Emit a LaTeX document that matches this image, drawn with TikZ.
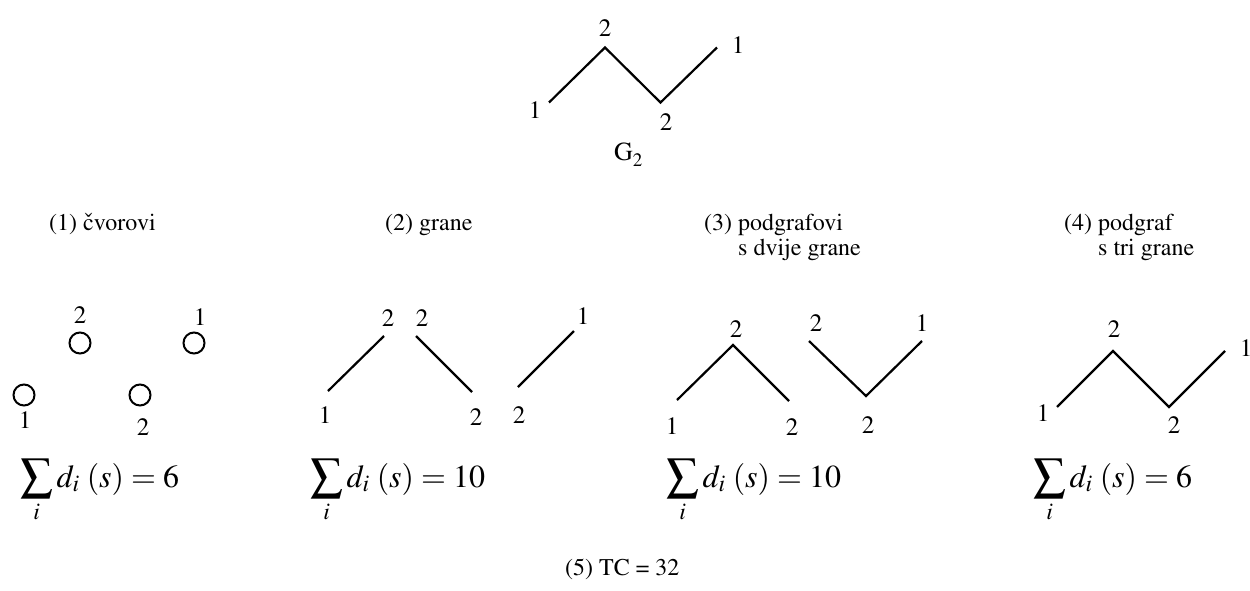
\documentclass[tikz,border=0pt]{standalone}
\usepackage[T1]{fontenc}
\usepackage{mathptmx}
\begin{document}
\begin{tikzpicture}[x=1pt,y=-1pt,
  edge/.style={line width=2.2pt},
  lbl/.style={font=\rmfamily\fontsize{25}{27}\selectfont, inner sep=0pt},
  hdr/.style={font=\rmfamily\fontsize{24}{26}\selectfont, inner sep=0pt, anchor=base west},
  frm/.style={font=\rmfamily\fontsize{32}{36}\selectfont, inner sep=0pt, anchor=base west},
  vert/.style={circle, draw, line width=2pt, minimum size=21pt, inner sep=0pt}]
\useasboundingbox (0,0) rectangle (1250,590);

% ---- G2 (top)
\coordinate (ga) at (549,102.5);
\coordinate (gb) at (605,47.5);
\coordinate (gc) at (660.5,102.5);
\coordinate (gd) at (717,47.5);
\draw[edge] (ga) -- (gb) -- (gc) -- (gd);
\node[lbl] (lga) at (535,110) {1};
\node[lbl] (lgb) at (605,28) {2};
\node[lbl] (lgc) at (666,122) {2};
\node[lbl] (lgd) at (738,45) {1};
\node[hdr, font=\rmfamily\fontsize{26}{28}\selectfont] (gname) at (614,160) {G\raisebox{-6pt}{\fontsize{19}{20}\selectfont 2}};

% ---- headers
\node[hdr] (h1) at (49,230) {(1) \char"A3 vorovi};
\node[hdr] (h2) at (385,230) {(2) grane};
\node[hdr] (h3) at (704,230) {(3) podgrafovi};
\node[hdr] (h3b) at (738,255) {s dvije grane};
\node[hdr] (h4) at (1064,230) {(4) podgraf};
\node[hdr] (h4b) at (1098,255) {s tri grane};

% ---- panel 1: vertices
\node[vert] (v1) at (80,343) {};
\node[vert] (v2) at (194,343) {};
\node[vert] (v3) at (24,395) {};
\node[vert] (v4) at (140,395) {};
\node[lbl] (lv1) at (80,315) {2};
\node[lbl] (lv2) at (200,317) {1};
\node[lbl] (lv3) at (25,420) {1};
\node[lbl] (lv4) at (143,427) {2};
\node[frm] (f1) at (20,487) {$\displaystyle\sum_i d_i\;(s)=6$};

% ---- panel 2: edges
\coordinate (e1a) at (328,391);
\coordinate (e1b) at (384,336);
\coordinate (e2a) at (416,336);
\coordinate (e2b) at (472,392);
\coordinate (e3a) at (518,387);
\coordinate (e3b) at (574,331);
\draw[edge] (e1a) -- (e1b);
\draw[edge] (e2a) -- (e2b);
\draw[edge] (e3a) -- (e3b);
\node[lbl] (le1b) at (388,318) {2};
\node[lbl] (le2a) at (422,318) {2};
\node[lbl] (le3b) at (583,316) {1};
\node[lbl] (le1a) at (325,415) {1};
\node[lbl] (le2b) at (476,417) {2};
\node[lbl] (le3a) at (519,415) {2};
\node[frm] (f2) at (310,487) {$\displaystyle\sum_i d_i\;(s)=10$};

% ---- panel 3: two-edge subgraphs
\coordinate (pa) at (677,400);
\coordinate (pb) at (733,345);
\coordinate (pc) at (789,401);
\coordinate (qa) at (809,341);
\coordinate (qb) at (866,396);
\coordinate (qc) at (922,341);
\draw[edge] (pa) -- (pb) -- (pc);
\draw[edge] (qa) -- (qb) -- (qc);
\node[lbl] (lpb) at (736,329) {2};
\node[lbl] (lpa) at (672,426) {1};
\node[lbl] (lpc) at (792,427) {2};
\node[lbl] (lqa) at (816,323) {2};
\node[lbl] (lqc) at (922,323) {1};
\node[lbl] (lqb) at (868,425) {2};
\node[frm] (f3) at (666,487) {$\displaystyle\sum_i d_i\;(s)=10$};

% ---- panel 4: three-edge subgraph
\coordinate (ra) at (1057,407);
\coordinate (rb) at (1113,351);
\coordinate (rc) at (1169,407);
\coordinate (rd) at (1225,351);
\draw[edge] (ra) -- (rb) -- (rc) -- (rd);
\node[lbl] (lrb) at (1114,329) {2};
\node[lbl] (lra) at (1043,413) {1};
\node[lbl] (lrc) at (1174,425) {2};
\node[lbl] (lrd) at (1246,348) {1};
\node[frm] (f4) at (1033,487) {$\displaystyle\sum_i d_i\;(s)=6$};

% ---- total
\node[hdr] (tc) at (565,575) {(5) TC = 32};
\end{tikzpicture}
\end{document}
